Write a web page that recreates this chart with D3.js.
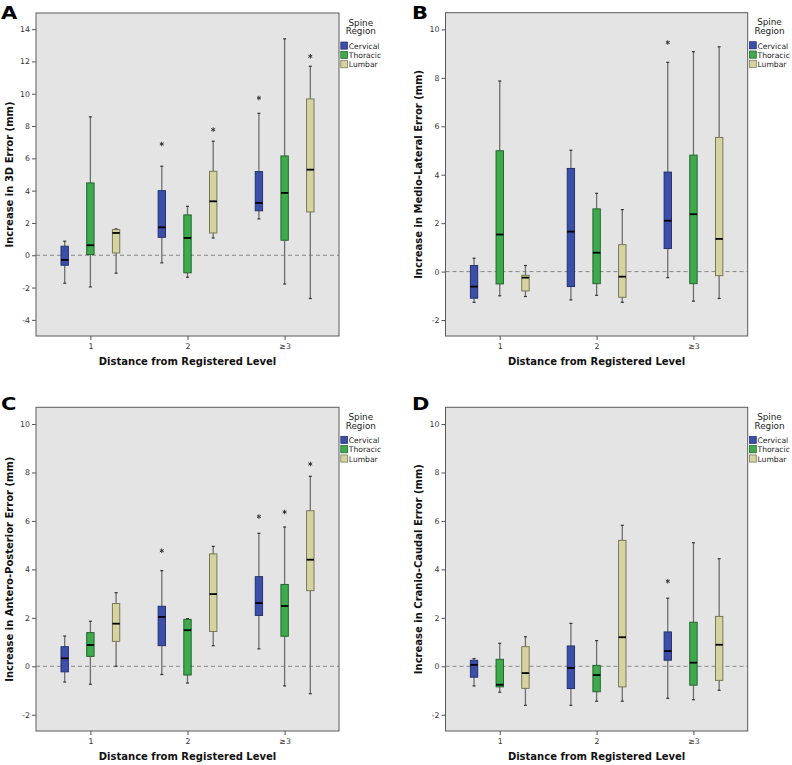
<!DOCTYPE html>
<html><head><meta charset="utf-8">
<script src="https://cdn.jsdelivr.net/npm/d3@7"></script>
<style>
html,body{margin:0;padding:0;background:#fff;}
svg{display:block;}
text{font-family:"DejaVu Sans",Verdana,sans-serif;}
</style></head>
<body>
<svg id="chart" width="792" height="765"></svg>
<script>
// ---------- data ----------
const categories = ["1", "2", "≥3"];
const seriesNames = ["Cervical", "Thoracic", "Lumbar"];
const seriesColors = ["#3b4fa8", "#3daa4c", "#d5d4a0"];
const seriesStrokes = ["#1f2a66", "#1d5a28", "#6e6d4e"];

// five-number summaries per category: [whiskerLow, Q1, median, Q3, whiskerHigh]
const a_cervical = [[-1.73, -0.62, -0.29, 0.56, 0.87], [-0.47, 1.11, 1.73, 4.0, 5.51], [2.25, 2.75, 3.24, 5.18, 8.79]];
const a_thoracic = [[-1.96, 0.04, 0.62, 4.48, 8.57], [-1.36, -1.09, 1.07, 2.5, 3.03], [-1.78, 0.93, 3.86, 6.15, 13.4]];
const a_lumbar   = [[-1.11, 0.14, 1.38, 1.59, 1.63], [1.07, 1.38, 3.34, 5.2, 7.06], [-2.68, 2.68, 5.3, 9.68, 11.7]];
const a_outliers = [["2", "Cervical", 6.89], ["2", "Lumbar", 7.78], ["≥3", "Cervical", 9.74], ["≥3", "Lumbar", 12.32]];

const b_cervical = [[-1.27, -1.1, -0.62, 0.25, 0.55], [-1.17, -0.62, 1.65, 4.26, 5.01], [-0.25, 0.95, 2.1, 4.11, 8.64]];
const b_thoracic = [[-1.0, -0.51, 1.53, 4.99, 7.87], [-0.98, -0.5, 0.78, 2.59, 3.23], [-1.22, -0.5, 2.37, 4.81, 9.08]];
const b_lumbar   = [[-1.03, -0.8, -0.25, -0.15, 0.25], [-1.27, -1.06, -0.21, 1.11, 2.56], [-1.11, -0.17, 1.35, 5.54, 9.28]];
const b_outliers = [["≥3", "Cervical", 9.46]];

const c_cervical = [[-0.65, -0.23, 0.33, 0.81, 1.25], [-0.34, 0.85, 2.04, 2.48, 3.95], [0.72, 2.1, 2.61, 3.7, 5.49]];
const c_thoracic = [[-0.74, 0.41, 0.88, 1.39, 1.86], [-0.69, -0.36, 1.49, 1.94, 1.97], [-0.81, 1.24, 2.49, 3.38, 5.75]];
const c_lumbar   = [[0.0, 1.03, 1.76, 2.59, 3.04], [0.85, 1.44, 2.98, 4.64, 4.95], [-1.13, 3.12, 4.4, 6.42, 7.84]];
const c_outliers = [["2", "Cervical", 4.77], ["≥3", "Cervical", 6.18], ["≥3", "Thoracic", 6.37], ["≥3", "Lumbar", 8.35]];

const d_cervical = [[-0.81, -0.45, 0.06, 0.25, 0.32], [-1.61, -0.92, -0.07, 0.84, 1.77], [-1.32, 0.25, 0.63, 1.42, 2.81]];
const d_thoracic = [[-1.07, -0.85, -0.76, 0.29, 0.95], [-1.44, -1.05, -0.36, 0.04, 1.06], [-1.38, -0.78, 0.15, 1.82, 5.1]];
const d_lumbar   = [[-1.61, -0.91, -0.28, 0.81, 1.22], [-1.44, -0.85, 1.2, 5.2, 5.82], [-0.99, -0.58, 0.89, 2.06, 4.44]];
const d_outliers = [["≥3", "Cervical", 3.51]];

const yTicksA = [-4, -2, 0, 2, 4, 6, 8, 10, 12, 14];
const yTicksBCD = [-2, 0, 2, 4, 6, 8, 10];

// ---------- layout ----------
const panels = [
  {letter: "A", title: "Increase in 3D Error (mm)", series: [a_cervical, a_thoracic, a_lumbar], outliers: a_outliers,
   left: 36, right: 339, top: 13, bottom: 336, domain: [-5, 15], ticks: yTicksA, letterX: 1, letterY: 18.5},
  {letter: "B", title: "Increase in Medio-Lateral Error (mm)", series: [b_cervical, b_thoracic, b_lumbar], outliers: b_outliers,
   left: 445.5, right: 747.7, top: 12.7, bottom: 336, domain: [-2.66, 10.69], ticks: yTicksBCD, letterX: 412, letterY: 18.5},
  {letter: "C", title: "Increase in Antero-Posterior Error (mm)", series: [c_cervical, c_thoracic, c_lumbar], outliers: c_outliers,
   left: 36, right: 339, top: 407.3, bottom: 731, domain: [-2.67, 10.69], ticks: yTicksBCD, letterX: 1, letterY: 409.5},
  {letter: "D", title: "Increase in Cranio-Caudal Error (mm)", series: [d_cervical, d_thoracic, d_lumbar], outliers: d_outliers,
   left: 445.5, right: 747.7, top: 407.3, bottom: 731, domain: [-2.67, 10.69], ticks: yTicksBCD, letterX: 412, letterY: 409.5}
];

const svg = d3.select("#chart");
const boxW = 7.4, capW = 3;

panels.forEach(p => {
  const g = svg.append("g");
  const x = d3.scalePoint().domain(categories).range([p.left, p.right]).padding(0.56);
  const sub = d3.scalePoint().domain(seriesNames).range([-25.7, 25.7]);
  const y = d3.scaleLinear().domain(p.domain).range([p.bottom, p.top]);

  // plot background
  g.append("rect").attr("x", p.left).attr("y", p.top)
    .attr("width", p.right - p.left).attr("height", p.bottom - p.top)
    .attr("fill", "#e4e4e4").attr("stroke", "none");

  // reference line at 0
  g.append("line").attr("x1", p.left).attr("x2", p.right)
    .attr("y1", y(0)).attr("y2", y(0))
    .attr("stroke", "#7a7a7a").attr("stroke-width", 0.9).attr("stroke-dasharray", "4,3");

  // boxes
  p.series.forEach((arr, si) => {
    const sname = seriesNames[si];
    arr.forEach((s, ci) => {
      const cx = x(categories[ci]) + sub(sname);
      const [lo, q1, med, q3, hi] = s;
      const bg = g.append("g");
      bg.append("line").attr("x1", cx).attr("x2", cx).attr("y1", y(hi)).attr("y2", y(q3))
        .attr("stroke", "#6f6f6f").attr("stroke-width", 1.3);
      bg.append("line").attr("x1", cx).attr("x2", cx).attr("y1", y(q1)).attr("y2", y(lo))
        .attr("stroke", "#6f6f6f").attr("stroke-width", 1.3);
      [lo, hi].forEach(v => bg.append("line")
        .attr("x1", cx - capW / 2).attr("x2", cx + capW / 2).attr("y1", y(v)).attr("y2", y(v))
        .attr("stroke", "#333").attr("stroke-width", 1.2));
      bg.append("rect").attr("x", cx - boxW / 2).attr("y", y(q3))
        .attr("width", boxW).attr("height", Math.max(0.5, y(q1) - y(q3)))
        .attr("fill", seriesColors[si]).attr("stroke", seriesStrokes[si]).attr("stroke-width", 0.9);
      bg.append("line").attr("x1", cx - boxW / 2).attr("x2", cx + boxW / 2)
        .attr("y1", y(med)).attr("y2", y(med)).attr("stroke", "#000").attr("stroke-width", 1.8);
    });
  });

  // outliers (extreme values)
  p.outliers.forEach(o => {
    const cx = x(o[0]) + sub(o[1]);
    g.append("path").attr("d", d3.symbol(d3.symbolAsterisk, 14)())
      .attr("transform", `translate(${cx},${y(o[2])})`)
      .attr("fill", "none").attr("stroke", "#333").attr("stroke-width", 1);
  });

  // frame
  g.append("rect").attr("x", p.left).attr("y", p.top)
    .attr("width", p.right - p.left).attr("height", p.bottom - p.top)
    .attr("fill", "none").attr("stroke", "#5a5a5a").attr("stroke-width", 1);

  // y axis
  const ya = g.append("g").attr("transform", `translate(${p.left},0)`)
    .call(d3.axisLeft(y).tickValues(p.ticks).tickSize(4).tickPadding(2).tickFormat(d3.format("d")));
  ya.select(".domain").remove();
  ya.selectAll(".tick line").attr("stroke", "#555");
  ya.selectAll(".tick text").attr("fill", "#333").style("font-size", "7.8px")
    .style("font-family", "'DejaVu Sans', Verdana, sans-serif").text(d => d < 0 ? "-" + Math.abs(d) : d);

  // x axis
  const xa = g.append("g").attr("transform", `translate(0,${p.bottom})`)
    .call(d3.axisBottom(x).tickSize(4).tickPadding(3));
  xa.select(".domain").remove();
  xa.selectAll(".tick line").attr("stroke", "#555");
  xa.selectAll(".tick text").attr("fill", "#333").style("font-size", "7.8px")
    .style("font-family", "'DejaVu Sans', Verdana, sans-serif");

  // axis titles
  g.append("text").attr("x", (p.left + p.right) / 2).attr("y", p.bottom + 28.5)
    .attr("text-anchor", "middle").attr("font-weight", "bold").attr("font-size", 10).attr("fill", "#111")
    .text("Distance from Registered Level");
  g.append("text").attr("transform", `translate(${p.left - 27},${(p.top + p.bottom) / 2}) rotate(-90)`)
    .attr("text-anchor", "middle").attr("dominant-baseline", "central")
    .attr("font-weight", "bold").attr("font-size", 10).attr("fill", "#111")
    .text(p.title);

  // panel letter
  g.append("text").attr("transform", `translate(${p.letterX},${p.letterY}) scale(1.2,1)`)
    .attr("font-weight", "bold").attr("font-size", 17.5).attr("fill", "#000")
    .text(p.letter);

  // legend
  const lx = p.right + 1.8, ly = p.top + 29;
  g.append("text").attr("x", p.right + 21.8).attr("y", p.top + 12.5).attr("text-anchor", "middle")
    .attr("font-size", 8.8).attr("fill", "#222").text("Spine");
  g.append("text").attr("x", p.right + 21.8).attr("y", p.top + 21.2).attr("text-anchor", "middle")
    .attr("font-size", 8.8).attr("fill", "#222").text("Region");
  seriesNames.forEach((s, i) => {
    g.append("rect").attr("x", lx).attr("y", ly + i * 9.3).attr("width", 6.8).attr("height", 7.2)
      .attr("fill", seriesColors[i]).attr("stroke", seriesStrokes[i]).attr("stroke-width", 0.7);
    g.append("text").attr("x", lx + 8).attr("y", ly + i * 9.3 + 6.8)
      .attr("font-size", 7.6).attr("fill", "#222").text(s);
  });
});
</script>
</body></html>
